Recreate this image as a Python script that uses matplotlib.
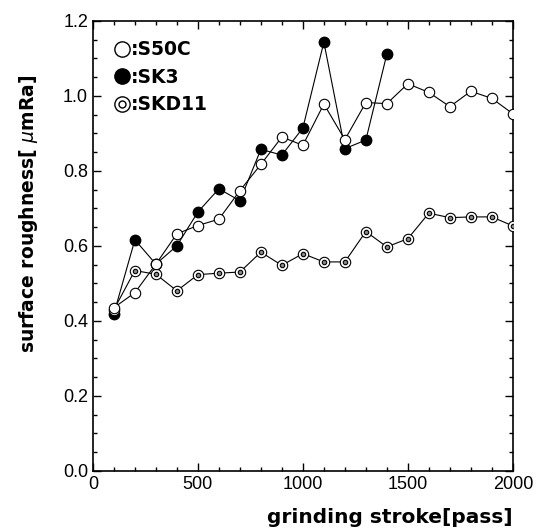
import numpy as np
import matplotlib.pyplot as plt
from matplotlib.lines import Line2D
from matplotlib.ticker import MultipleLocator

plt.rcParams['font.family'] = ['Liberation Sans', 'DejaVu Sans']

passes = np.arange(100, 2001, 100)

s50c = [0.435, 0.475, 0.551, 0.632, 0.654, 0.671, 0.747, 0.817, 0.890, 0.868,
        0.978, 0.883, 0.982, 0.979, 1.032, 1.009, 0.971, 1.012, 0.993, 0.952]
sk3 = [0.419, 0.616, 0.551, 0.600, 0.690, 0.752, 0.720, 0.857, 0.842, 0.914,
       1.143, 0.859, 0.882, 1.111]
skd11 = [0.430, 0.534, 0.524, 0.480, 0.523, 0.527, 0.530, 0.583, 0.548, 0.579,
         0.557, 0.557, 0.638, 0.597, 0.619, 0.687, 0.675, 0.677, 0.677, 0.653]

fig = plt.figure(figsize=(5.37, 5.32), dpi=100)
ax = fig.add_axes([0.173, 0.115, 0.782, 0.846])

ms = 7.5
lw = 0.8
ax.plot(passes[:len(sk3)], sk3, '-o', color='black', lw=lw, ms=ms,
        mfc='black', mec='black', zorder=2)
ax.plot(passes, skd11, '-o', color='black', lw=lw, ms=ms,
        mfc='white', mec='black', mew=0.8, zorder=3)
ax.plot(passes, skd11, 'o', ms=3.2, mfc='#888888', mec='black', mew=0.8, zorder=3)
ax.plot(passes, s50c, '-o', color='black', lw=lw, ms=ms,
        mfc='white', mec='black', mew=0.8, zorder=4)

ax.set_xlim(0, 2000)
ax.set_ylim(0.0, 1.2)
ax.xaxis.set_major_locator(MultipleLocator(500))
ax.xaxis.set_minor_locator(MultipleLocator(100))
ax.yaxis.set_major_locator(MultipleLocator(0.2))
ax.yaxis.set_minor_locator(MultipleLocator(0.05))
ax.yaxis.set_major_formatter(plt.FormatStrFormatter('%.1f'))
ax.tick_params(which='both', direction='in', top=True, right=True,
               labelsize=13, width=1)
ax.tick_params(which='major', length=6)
ax.tick_params(which='minor', length=3)
for s in ax.spines.values():
    s.set_linewidth(1.2)

bold = {'family': 'DejaVu Sans', 'weight': 'bold', 'size': 13.5}
ax.set_xlabel('grinding stroke[pass]', fontdict=dict(bold, size=14.5),
              ha='right', va='top')
ax.xaxis.set_label_coords(1.0, -0.082)
ax.set_ylabel(r'surface roughness[ $\mu$mRa]', fontdict=bold)
ax.yaxis.set_label_coords(-0.125, 0.57)

# legend: markers only
h_open = Line2D([], [], ls='none', marker='o', ms=11, mfc='white', mec='black')
h_fill = Line2D([], [], ls='none', marker='o', ms=11, mfc='black', mec='black')
h_dbl = (Line2D([], [], ls='none', marker='o', ms=11, mfc='white', mec='black'),
         Line2D([], [], ls='none', marker='o', ms=5, mfc='white', mec='black'))
ax.legend([h_open, h_fill, h_dbl], [':S50C', ':SK3', ':SKD11'],
          loc='upper left', frameon=False, handlelength=1.0, handletextpad=0.0,
          labelspacing=0.45, borderaxespad=0.55, borderpad=0.5,
          prop={'family': 'DejaVu Sans', 'weight': 'bold', 'size': 13.5})

fig.savefig('out.png', dpi=100)
